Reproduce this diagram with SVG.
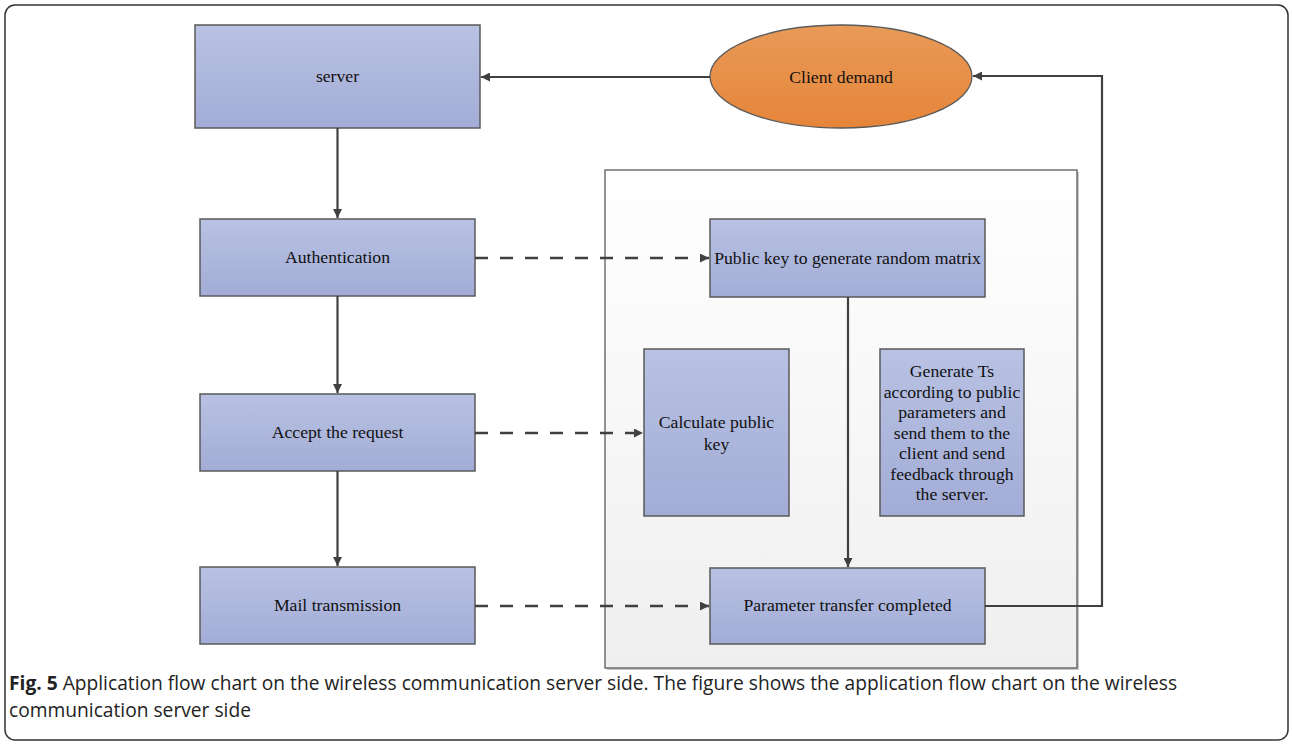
<svg xmlns="http://www.w3.org/2000/svg" width="1292" height="745" viewBox="0 0 1292 745">
  <defs>
    <linearGradient id="boxFill" x1="0" y1="0" x2="0" y2="1">
      <stop offset="0" stop-color="#b9c2e3"/>
      <stop offset="1" stop-color="#a2acd6"/>
    </linearGradient>
    <linearGradient id="ovalFill" x1="0" y1="0" x2="0" y2="1">
      <stop offset="0" stop-color="#e89a58"/>
      <stop offset="1" stop-color="#e6853a"/>
    </linearGradient>
    <linearGradient id="panelFill" x1="0" y1="0" x2="0" y2="1">
      <stop offset="0" stop-color="#ffffff"/>
      <stop offset="1" stop-color="#efefef"/>
    </linearGradient>
    <marker id="arrow" viewBox="0 0 10 10" refX="10" refY="5" markerWidth="9" markerHeight="9" markerUnits="userSpaceOnUse" orient="auto">
      <path d="M0,0 L10,5 L0,10 z" fill="#404040"/>
    </marker>
  </defs>
  <style>
    .box { fill: url(#boxFill); stroke: #5a5a5a; stroke-width: 1.5; }
    .lbl { font-family: "Liberation Serif", "Times New Roman", serif; font-size: 17.7px; fill: #111; text-anchor: middle; }
    .solid { fill: none; stroke: #404040; stroke-width: 2.2; }
    .dash { fill: none; stroke: #404040; stroke-width: 2.5; stroke-dasharray: 13 12; }
    .cap { font-family: "Open Sans", "Noto Sans", sans-serif; font-size: 19.2px; fill: #222; }
  </style>

  <!-- outer frame -->
  <rect x="5" y="5" width="1283" height="735" rx="10" ry="10" fill="#ffffff" stroke="#333" stroke-width="1.5"/>

  <!-- grey panel holding the key steps -->
  <g id="panel">
    <rect x="607" y="172" width="472" height="498" fill="#c8c8c8"/>
    <rect x="605" y="170" width="472" height="498" fill="url(#panelFill)" stroke="#5a5a5a" stroke-width="1.3"/>
  </g>

  <g id="server">
    <rect class="box" x="195" y="25" width="285" height="103"/>
    <text class="lbl" x="337.5" y="82">server</text>
  </g>

  <g id="client-demand">
    <ellipse cx="841" cy="76.5" rx="131" ry="51.5" fill="url(#ovalFill)" stroke="#5a5a5a" stroke-width="1.3"/>
    <text class="lbl" x="841" y="83">Client demand</text>
  </g>

  <g id="authentication">
    <rect class="box" x="200" y="219" width="275" height="77"/>
    <text class="lbl" x="337.5" y="263">Authentication</text>
  </g>

  <g id="accept-request">
    <rect class="box" x="200" y="394" width="275" height="77"/>
    <text class="lbl" x="337.5" y="438">Accept the request</text>
  </g>

  <g id="mail-transmission">
    <rect class="box" x="200" y="567" width="275" height="77"/>
    <text class="lbl" x="337.5" y="611">Mail transmission</text>
  </g>

  <g id="random-matrix">
    <rect class="box" x="710" y="219" width="275" height="78"/>
    <text class="lbl" x="847.5" y="264">Public key to generate random matrix</text>
  </g>

  <g id="calculate-key">
    <rect class="box" x="644" y="349" width="145" height="167"/>
    <text class="lbl" x="716.5" y="428">Calculate public</text>
    <text class="lbl" x="716.5" y="450">key</text>
  </g>

  <g id="generate-ts">
    <rect class="box" x="880" y="349" width="144" height="167"/>
    <text class="lbl" x="952" y="377">Generate Ts</text>
    <text class="lbl" x="952" y="398">according to public</text>
    <text class="lbl" x="952" y="418">parameters and</text>
    <text class="lbl" x="952" y="439">send them to the</text>
    <text class="lbl" x="952" y="459">client and send</text>
    <text class="lbl" x="952" y="480">feedback through</text>
    <text class="lbl" x="952" y="500">the server.</text>
  </g>

  <g id="transfer-completed">
    <rect class="box" x="710" y="568" width="275" height="76"/>
    <text class="lbl" x="847.5" y="611">Parameter transfer completed</text>
  </g>

  <g id="connectors">
    <path class="solid" d="M710,77 H481" marker-end="url(#arrow)"/>
    <path class="solid" d="M337.5,128 V218" marker-end="url(#arrow)"/>
    <path class="solid" d="M337.5,296 V393" marker-end="url(#arrow)"/>
    <path class="solid" d="M337.5,471 V566" marker-end="url(#arrow)"/>
    <path class="solid" d="M848,297 V567" marker-end="url(#arrow)"/>
    <path class="solid" d="M985,606 H1102 V76 H973" marker-end="url(#arrow)"/>
    <path class="dash" d="M475,258 H709" marker-end="url(#arrow)"/>
    <path class="dash" d="M475,433 H643" marker-end="url(#arrow)"/>
    <path class="dash" d="M475,606 H709" marker-end="url(#arrow)"/>
  </g>

  <!-- caption -->
  <text class="cap" x="9" y="690"><tspan font-weight="bold">Fig. 5</tspan> Application flow chart on the wireless communication server side. The figure shows the application flow chart on the wireless</text>
  <text class="cap" x="9" y="717">communication server side</text>
</svg>
